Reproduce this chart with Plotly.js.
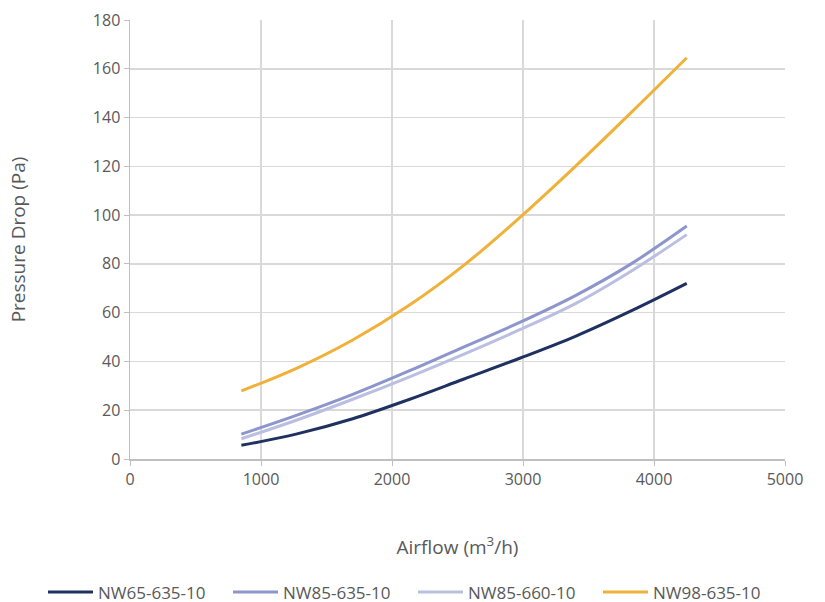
<!DOCTYPE html>
<html>
<head>
<meta charset="utf-8">
<script src="https://cdn.plot.ly/plotly-3.0.1.min.js"></script>
<style>html,body{margin:0;padding:0;background:#fff;}#chart{width:825px;height:602px;}</style>
</head>
<body>
<div id="chart"></div>
<script>
const airflow = [850, 1275, 1700, 2125, 2550, 2975, 3400, 3825, 4250];
const nw65_635 = [5.6, 10.3, 16.5, 24.3, 32.8, 41.3, 50.3, 60.7, 72];
const nw85_635 = [10.2, 18, 26.5, 36, 46, 56, 67, 80, 95.5];
const nw85_660 = [8.3, 16, 24.5, 33.5, 43, 53, 63.7, 77, 92];
const nw98_635 = [27.9, 37.3, 48.8, 62.8, 79.5, 99, 120, 142, 164.5];
const seriesNames = ['NW65-635-10', 'NW85-635-10', 'NW85-660-10', 'NW98-635-10'];
const seriesValues = [nw65_635, nw85_635, nw85_660, nw98_635];
const colors = ['#1f3161', '#8c96cc', '#babfe2', '#f0b139'];
const legendIds = ['legend', 'legend2', 'legend3', 'legend4'];
const legendX = [43, 228, 413, 598];

const traces = seriesNames.map((n, i) => ({
  x: airflow, y: seriesValues[i], name: n, type: 'scatter', mode: 'lines',
  legend: legendIds[i],
  line: {color: colors[i], width: 3, shape: 'spline', smoothing: 1}
}));

const fnt = {family: 'Open Sans, sans-serif', size: 16, color: '#595959'};
const titleFont = {family: 'Open Sans, sans-serif', size: 19, color: '#595959'};
const layout = {
  width: 825, height: 602,
  margin: {l: 130, r: 40, t: 20, b: 143},
  paper_bgcolor: '#fff', plot_bgcolor: '#fff',
  font: fnt,
  showlegend: true,
  xaxis: {
    range: [0, 5000], dtick: 1000, tick0: 0,
    showgrid: true, gridcolor: '#d9d9d9', gridwidth: 1.5,
    zeroline: false, showline: true, linecolor: '#bfbfbf', linewidth: 1.5,
    ticks: 'outside', ticklen: 5, tickcolor: '#bfbfbf',
    tickfont: fnt, mirror: false,
    title: {text: 'Airflow (m<sup>3</sup>/h)', font: titleFont, standoff: 52}
  },
  yaxis: {
    range: [0, 180], dtick: 20, tick0: 0,
    showgrid: true, gridcolor: '#d9d9d9', gridwidth: 1.5,
    zeroline: false, showline: true, linecolor: '#bfbfbf', linewidth: 1.5,
    ticks: 'outside', ticklen: 5, tickcolor: '#bfbfbf',
    tickfont: fnt,
    title: {text: 'Pressure Drop (Pa)', font: titleFont, standoff: 62}
  }
};
legendIds.forEach((id, i) => {
  layout[id] = {
    orientation: 'h', x: legendX[i] / 825, xanchor: 'left', xref: 'container',
    y: 0.016, yanchor: 'middle', yref: 'container',
    itemwidth: 45, bgcolor: 'rgba(0,0,0,0)',
    font: {family: 'Open Sans, sans-serif', size: 17, color: '#595959'}
  };
});
Plotly.newPlot('chart', traces, layout, {displayModeBar: false, staticPlot: true});
</script>
</body>
</html>
